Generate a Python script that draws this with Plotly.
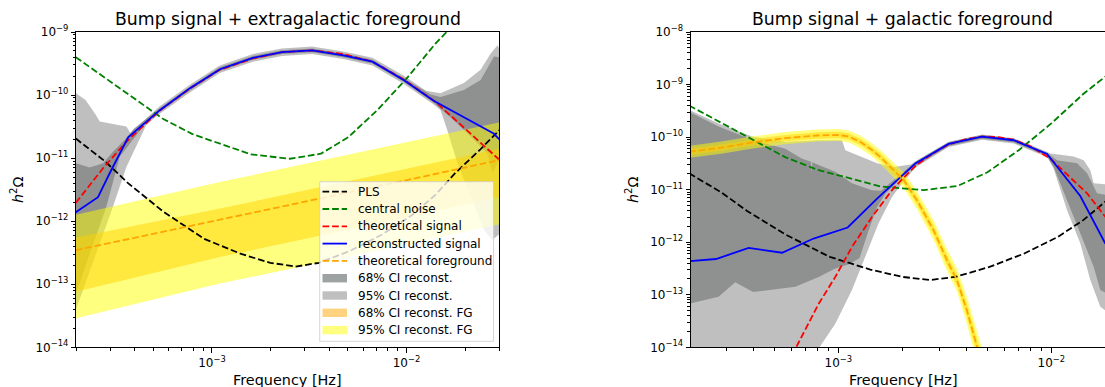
import numpy as np
import plotly.graph_objects as go

W, H = 1105, 387

# ---------------- values (log10 units) ----------------
# shared detector curves
pls_logf = [-3.70, -3.55, -3.43, -3.25, -3.04, -2.85, -2.70, -2.57, -2.45, -2.29, -2.13, -1.97, -1.85, -1.75, -1.62, -1.52]
pls_logo = [-10.69, -11.05, -11.40, -11.85, -12.28, -12.52, -12.66, -12.72, -12.66, -12.47, -12.22, -11.90, -11.58, -11.24, -10.86, -10.55]
noise_logf = [-3.70, -3.55, -3.40, -3.25, -3.10, -2.96, -2.80, -2.60, -2.44, -2.30, -2.15, -2.00, -1.85, -1.75, -1.60, -1.52]
noise_logo = [-9.40, -9.73, -10.06, -10.38, -10.62, -10.77, -10.94, -11.01, -10.93, -10.67, -10.24, -9.74, -9.18, -8.86, -8.35, -8.10]

# ---- left panel: bump + extragalactic foreground ----
sig1_logf = [-3.70, -3.56, -3.44, -3.27, -3.11, -2.96, -2.79, -2.64, -2.485, -2.325, -2.175, -2.015, -1.85, -1.687, -1.532, -1.52]
sig1_logo = [-11.71, -11.16, -10.74, -10.25, -9.89, -9.60, -9.42, -9.32, -9.29, -9.35, -9.47, -9.75, -10.11, -10.56, -11.00, -11.04]
rec1_logf = [-3.70, -3.586, -3.526, -3.431, -3.268, -3.113, -2.959, -2.79, -2.64, -2.485, -2.325, -2.175, -2.015, -1.86, -1.552, -1.52]
rec1_logo = [-11.86, -11.62, -11.24, -10.67, -10.24, -9.89, -9.59, -9.41, -9.32, -9.29, -9.37, -9.47, -9.76, -10.09, -10.61, -10.71]

ci95_1_up_logf = [-3.70, -3.65, -3.60, -3.577, -3.44, -3.42, -3.27, -3.11, -2.96, -2.79, -2.64, -2.485, -2.325, -2.175, -2.015, -1.90, -1.825, -1.705, -1.619, -1.567, -1.532, -1.52]
ci95_1_up_logo = [-9.97, -10.08, -10.30, -10.42, -10.50, -10.60, -10.18, -9.83, -9.53, -9.35, -9.26, -9.23, -9.31, -9.41, -9.69, -9.93, -9.97, -9.81, -9.60, -9.34, -9.21, -9.28]
ci95_1_lo_logf = [-3.70, -3.509, -3.44, -3.337, -3.27, -3.11, -2.96, -2.79, -2.64, -2.485, -2.325, -2.175, -2.015, -1.86, -1.825, -1.79, -1.738, -1.67, -1.601, -1.56, -1.52]
ci95_1_lo_logo = [-13.41, -11.77, -11.14, -10.47, -10.30, -9.95, -9.65, -9.47, -9.38, -9.35, -9.43, -9.53, -9.82, -10.15, -10.24, -10.56, -11.08, -11.61, -12.14, -12.30, -12.20]
ci68_1_up_logf = [-3.70, -3.629, -3.56, -3.509, -3.448, -3.40, -3.27, -3.11, -2.96, -2.79, -2.64, -2.485, -2.325, -2.175, -2.015, -1.876, -1.825, -1.705, -1.619, -1.55, -1.52]
ci68_1_up_logo = [-11.08, -11.15, -11.08, -10.90, -10.71, -10.53, -10.21, -9.86, -9.56, -9.38, -9.29, -9.26, -9.34, -9.44, -9.73, -9.99, -10.03, -9.92, -9.76, -9.39, -9.40]
ci68_1_lo_logf = [-3.70, -3.543, -3.474, -3.354, -3.27, -3.11, -2.96, -2.79, -2.64, -2.485, -2.325, -2.175, -2.015, -1.86, -1.75, -1.653, -1.584, -1.558, -1.532, -1.52]
ci68_1_lo_logo = [-13.15, -11.77, -10.98, -10.50, -10.27, -9.92, -9.62, -9.44, -9.35, -9.32, -9.40, -9.50, -9.79, -10.12, -10.42, -10.71, -10.93, -11.24, -11.08, -10.98]

fg1_logf = [-3.70, -2.959, -2.031, -1.52]
fg1_logo = [-12.46, -11.98, -11.37, -11.03]
fg1_up95 = [-11.90, -11.38, -10.77, -10.43]
fg1_up68 = [-12.26, -11.80, -11.19, -10.85]
fg1_lo68 = [-13.12, -12.57, -11.96, -11.62]
fg1_lo95 = [-13.54, -12.99, -12.39, -12.05]

# ---- right panel: bump + galactic foreground ----
sig2_logf = [-3.30, -3.202, -3.092, -3.014, -2.936, -2.842, -2.748, -2.693, -2.638, -2.56, -2.482, -2.40, -2.325, -2.25, -2.177, -2.10, -2.005, -1.895, -1.832, -1.746]
sig2_logo = [-14.8, -14.03, -13.17, -12.66, -12.09, -11.52, -11.01, -10.77, -10.55, -10.32, -10.14, -10.04, -9.99, -10.00, -10.05, -10.17, -10.41, -10.83, -11.07, -11.52]
rec2_logf = [-3.70, -3.574, -3.421, -3.264, -3.116, -2.956, -2.818, -2.638, -2.482, -2.325, -2.177, -2.02, -1.864, -1.746]
rec2_logo = [-12.36, -12.32, -12.11, -12.20, -11.93, -11.72, -11.17, -10.50, -10.13, -9.99, -10.06, -10.32, -11.12, -12.03]

ci95_2_up_logf = [-3.70, -3.562, -3.405, -3.249, -3.092, -2.983, -2.967, -2.897, -2.818, -2.74, -2.66, -2.638, -2.482, -2.325, -2.177, -2.02, -2.005, -1.895, -1.848, -1.817, -1.801, -1.746]
ci95_2_up_logo = [-9.48, -9.74, -9.99, -10.09, -10.06, -10.06, -10.25, -10.37, -10.50, -10.57, -10.52, -10.46, -10.09, -9.95, -10.02, -10.28, -10.31, -10.37, -10.44, -10.63, -10.88, -10.90]
ci95_2_lo_logf = [-3.70, -3.13, -3.092, -3.014, -2.936, -2.873, -2.811, -2.748, -2.70, -2.638, -2.482, -2.325, -2.177, -2.02, -1.989, -1.926, -1.864, -1.817, -1.77, -1.746]
ci95_2_lo_logo = [-14.6, -14.5, -14.02, -13.55, -12.91, -12.28, -11.64, -11.14, -10.88, -10.58, -10.19, -10.05, -10.12, -10.38, -10.60, -11.39, -12.02, -12.72, -13.23, -13.30]
ci68_2_up_logf = [-3.70, -3.562, -3.405, -3.249, -3.17, -3.128, -3.126, -3.122, -3.092, -3.014, -2.936, -2.842, -2.80, -2.75, -2.70, -2.638, -2.482, -2.325, -2.177, -2.02, -1.973, -1.879, -1.832, -1.785, -1.746]
ci68_2_up_logo = [-9.52, -9.80, -10.05, -10.22, -10.41, -10.47, -10.68, -10.48, -10.53, -10.66, -10.88, -11.01, -11.02, -10.85, -10.69, -10.47, -10.10, -9.96, -10.03, -10.30, -10.44, -10.50, -10.69, -11.07, -11.10]
ci68_2_lo_logf = [-3.70, -3.562, -3.484, -3.40, -3.327, -3.202, -3.092, -3.014, -2.95, -2.90, -2.86, -2.82, -2.78, -2.74, -2.70, -2.638, -2.482, -2.325, -2.177, -2.02, -1.989, -1.926, -1.864, -1.801, -1.77, -1.746]
ci68_2_lo_logo = [-13.17, -13.04, -12.76, -12.95, -12.91, -12.85, -12.66, -12.50, -12.42, -12.30, -11.80, -11.35, -11.08, -10.92, -10.76, -10.55, -10.17, -10.03, -10.10, -10.36, -10.57, -11.20, -11.83, -12.47, -12.91, -12.96]

fg2_logf = [-3.70, -3.55, -3.40, -3.25, -3.10, -3.00, -2.95, -2.897, -2.85, -2.803, -2.74, -2.693, -2.631, -2.553, -2.49, -2.443, -2.396, -2.349, -2.30]
fg2_logo = [-10.28, -10.20, -10.10, -10.02, -9.97, -9.96, -9.99, -10.09, -10.22, -10.375, -10.63, -10.82, -11.20, -11.77, -12.34, -12.72, -13.30, -14.00, -14.70]
fg2_up95 = [-10.165, -10.085, -9.985, -9.905, -9.855, -9.845, -9.875, -9.97, -10.095, -10.245, -10.49, -10.67, -11.03, -11.58, -12.13, -12.50, -13.04, -13.70, -14.36]
fg2_lo95 = [-10.395, -10.315, -10.215, -10.135, -10.085, -10.075, -10.105, -10.21, -10.345, -10.505, -10.77, -10.97, -11.37, -11.96, -12.55, -12.94, -13.56, -14.30, -15.04]
fg2_up68 = [-10.22, -10.14, -10.04, -9.96, -9.91, -9.90, -9.93, -10.028, -10.155, -10.307, -10.558, -10.742, -11.112, -11.67, -12.23, -12.605, -13.165, -13.845, -14.525]
fg2_lo68 = [-10.34, -10.26, -10.16, -10.08, -10.03, -10.02, -10.05, -10.152, -10.285, -10.443, -10.702, -10.898, -11.288, -11.87, -12.45, -12.835, -13.435, -14.155, -14.875]

# tick labels
x_major = [1e-3, 1e-2]
x_major_text = ["10<sup>\u22123</sup>", "10<sup>\u22122</sup>"]
y1_major = [1e-14, 1e-13, 1e-12, 1e-11, 1e-10, 1e-9]
y2_major = [1e-14, 1e-13, 1e-12, 1e-11, 1e-10, 1e-9, 1e-8]

legend_labels = ["PLS", "central noise", "theoretical signal", "reconstructed signal",
                 "theoretical foreground", "68% CI reconst.", "95% CI reconst.",
                 "68% CI reconst. FG", "95% CI reconst. FG"]

# ---------------- styles ----------------
FONT = "DejaVu Sans"
DASH = "6.7px,2.9px"
LW = 1.8
C_PLS, C_NOISE, C_SIG, C_REC, C_FG = "black", "#008000", "#ff0000", "#0000ff", "#ffa500"
C68, C95 = "rgba(125,131,131,0.75)", "rgba(128,128,128,0.5)"
CFG68, CFG95 = "rgba(255,165,0,0.5)", "rgba(255,255,0,0.5)"


def P(a):
    return np.power(10.0, np.asarray(a, dtype=float))


def band(up_f, up_o, lo_f, lo_o, color, xa, ya, name):
    x = np.concatenate([P(up_f), P(lo_f)[::-1]])
    y = np.concatenate([P(up_o), P(lo_o)[::-1]])
    return go.Scatter(x=x, y=y, mode="lines", fill="toself", fillcolor=color,
                      line=dict(width=0, color=color), hoverinfo="skip",
                      showlegend=False, name=name, xaxis=xa, yaxis=ya)


def line(f, o, color, dash, xa, ya, name):
    return go.Scatter(x=P(f), y=P(o), mode="lines",
                      line=dict(color=color, width=LW, dash=dash),
                      showlegend=False, name=name, xaxis=xa, yaxis=ya)


fig = go.Figure()
# left panel
fig.add_trace(band(ci68_1_up_logf, ci68_1_up_logo, ci68_1_lo_logf, ci68_1_lo_logo, C68, "x", "y", "68% CI reconst."))
fig.add_trace(band(ci95_1_up_logf, ci95_1_up_logo, ci95_1_lo_logf, ci95_1_lo_logo, C95, "x", "y", "95% CI reconst."))
fig.add_trace(band(fg1_logf, fg1_up68, fg1_logf, fg1_lo68, CFG68, "x", "y", "68% CI reconst. FG"))
fig.add_trace(band(fg1_logf, fg1_up95, fg1_logf, fg1_lo95, CFG95, "x", "y", "95% CI reconst. FG"))
fig.add_trace(line(pls_logf, pls_logo, C_PLS, DASH, "x", "y", "PLS"))
fig.add_trace(line(noise_logf, noise_logo, C_NOISE, DASH, "x", "y", "central noise"))
fig.add_trace(line(sig1_logf, sig1_logo, C_SIG, DASH, "x", "y", "theoretical signal"))
fig.add_trace(line(rec1_logf, rec1_logo, C_REC, "solid", "x", "y", "reconstructed signal"))
fig.add_trace(line(fg1_logf, fg1_logo, C_FG, DASH, "x", "y", "theoretical foreground"))
# right panel
fig.add_trace(band(ci68_2_up_logf, ci68_2_up_logo, ci68_2_lo_logf, ci68_2_lo_logo, C68, "x2", "y2", "68% CI reconst."))
fig.add_trace(band(ci95_2_up_logf, ci95_2_up_logo, ci95_2_lo_logf, ci95_2_lo_logo, C95, "x2", "y2", "95% CI reconst."))
fig.add_trace(band(fg2_logf, fg2_up68, fg2_logf, fg2_lo68, CFG68, "x2", "y2", "68% CI reconst. FG"))
fig.add_trace(band(fg2_logf, fg2_up95, fg2_logf, fg2_lo95, CFG95, "x2", "y2", "95% CI reconst. FG"))
fig.add_trace(line(pls_logf, pls_logo, C_PLS, DASH, "x2", "y2", "PLS"))
fig.add_trace(line(noise_logf, noise_logo, C_NOISE, DASH, "x2", "y2", "central noise"))
fig.add_trace(line(sig2_logf, sig2_logo, C_SIG, DASH, "x2", "y2", "theoretical signal"))
fig.add_trace(line(rec2_logf, rec2_logo, C_REC, "solid", "x2", "y2", "reconstructed signal"))
fig.add_trace(line(fg2_logf, fg2_logo, C_FG, DASH, "x2", "y2", "theoretical foreground"))

# ---------------- axes ----------------
def minor_vals(lo_exp, hi_exp):
    return [m * 10.0 ** e for e in range(lo_exp, hi_exp) for m in range(2, 10)]


def axis(domain, rng, tickvals, ticktext, minors, anchor, mirror):
    return dict(type="log", domain=domain, range=rng, anchor=anchor, automargin=False,
                showline=True, linecolor="black", linewidth=1, mirror=mirror,
                showgrid=False, zeroline=False,
                ticks="outside", ticklen=4.2, tickwidth=1, tickcolor="black",
                tickmode="array", tickvals=tickvals, ticktext=ticktext,
                tickfont=dict(family=FONT, size=12, color="black"),
                minor=dict(tickmode="array", tickvals=minors, ticks="outside",
                           ticklen=2.4, tickwidth=0.7, tickcolor="black", showgrid=False))


def sup(v):
    e = int(round(np.log10(v)))
    return "10<sup>\u2212%d</sup>" % (-e)


ydom = [1 - 347.3 / H, 1 - 32 / H]
fig.update_layout(
    template="none",
    width=W, height=H, margin=dict(l=0, r=0, t=0, b=0, pad=0, autoexpand=False),
    paper_bgcolor="white", plot_bgcolor="white", showlegend=False,
    font=dict(family=FONT, color="black"),
    xaxis=axis([76 / W, 499.3 / W], [np.log10(2e-4), np.log10(3e-2)], x_major, x_major_text,
               minor_vals(-4, -1), "y", True),
    yaxis=axis(ydom, [-14, -9], y1_major, [sup(v) for v in y1_major], minor_vals(-14, -9), "x", True),
    xaxis2=axis([690.7 / W, 1.0], [-3.693, -1.748], x_major, x_major_text,
                minor_vals(-4, -1), "y2", True),
    yaxis2=axis(ydom, [-14, -8], y2_major, [sup(v) for v in y2_major], minor_vals(-14, -8), "x2", False),
)

# ---------------- titles / labels ----------------
def ann(text, xpx, ypx, size, angle=0, xanchor="center"):
    return dict(text=text, x=xpx / W, y=1 - ypx / H, xref="paper", yref="paper",
                showarrow=False, xanchor=xanchor, yanchor="middle", textangle=angle,
                font=dict(family=FONT, size=size, color="black"))


annotations = [
    ann("Bump signal + extragalactic foreground", 287.7, 19, 17.3),
    ann("Bump signal + galactic foreground", 902.5, 19, 17.3),
    ann("Frequency [Hz]", 287.7, 379.5, 14.4),
    ann("Frequency [Hz]", 903, 379.5, 14.4),
    ann("<i>h</i><sup>2</sup>\u03a9", 17, 190, 14.4, angle=-90),
    ann("<i>h</i><sup>2</sup>\u03a9", 632, 190, 14.4, angle=-90),
]

# ---------------- legend (left panel) ----------------
shapes = [dict(type="rect", xref="paper", yref="paper", layer="above",
               x0=319.7 / W, x1=493.5 / W, y0=1 - 341.3 / H, y1=1 - 181.7 / H,
               fillcolor="rgba(255,255,255,0.8)", line=dict(color="rgba(204,204,204,0.8)", width=1))]
legend_styles = [("line", C_PLS, DASH), ("line", C_NOISE, DASH), ("line", C_SIG, DASH),
                 ("line", C_REC, "solid"), ("line", C_FG, DASH),
                 ("patch", C68, None), ("patch", C95, None), ("patch", CFG68, None), ("patch", CFG95, None)]
for i, (lab, (kind, col, dash)) in enumerate(zip(legend_labels, legend_styles)):
    yc = 191.7 + 17.3 * i
    if kind == "line":
        shapes.append(dict(type="line", xref="paper", yref="paper", layer="above",
                           x0=322.5 / W, x1=347 / W, y0=1 - yc / H, y1=1 - yc / H,
                           line=dict(color=col, width=LW, dash=dash)))
    else:
        shapes.append(dict(type="rect", xref="paper", yref="paper", layer="above",
                           x0=322.5 / W, x1=347 / W, y0=1 - (yc + 4.2) / H, y1=1 - (yc - 4.2) / H,
                           fillcolor=col, line=dict(width=0)))
    annotations.append(ann(lab, 356.3, yc, 12, xanchor="left"))

fig.update_layout(shapes=shapes, annotations=annotations)
fig.write_html("out.html")
